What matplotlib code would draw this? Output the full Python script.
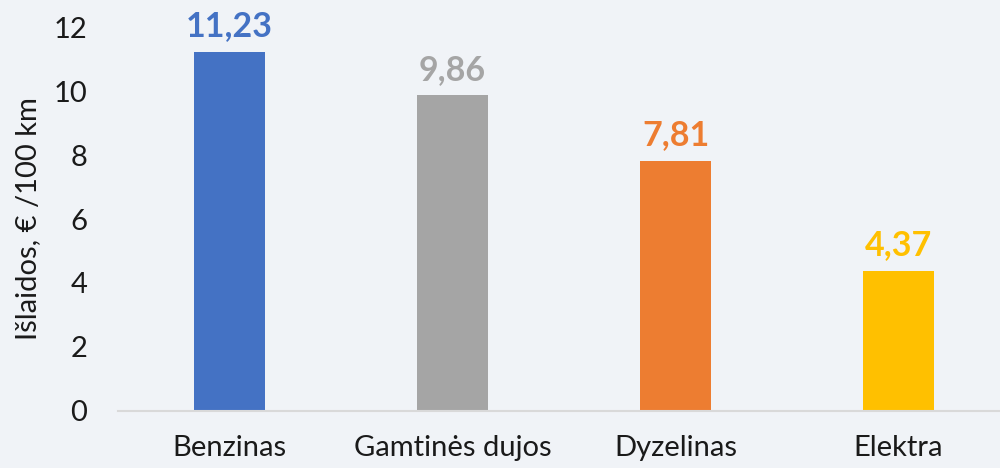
import matplotlib
matplotlib.use("Agg")
import matplotlib.pyplot as plt

categories = ["Benzinas", "Gamtinės dujos", "Dyzelinas", "Elektra"]
values = [11.23, 9.86, 7.81, 4.37]
labels = ["11,23", "9,86", "7,81", "4,37"]
colors = ["#4472C4", "#A5A5A5", "#ED7D31", "#FFC000"]
yticks = [0, 2, 4, 6, 8, 10, 12]

plt.rcParams['font.family'] = ['Lato', 'DejaVu Sans']
bg = "#F0F3F7"
fig = plt.figure(figsize=(10, 4.68), dpi=100, facecolor=bg)
ax = fig.add_axes([0.118, 0.1218, 0.892, 0.8205], facecolor=bg)

x = list(range(len(categories)))
ax.bar(x, values, width=0.32, color=colors, zorder=2)
for xi, v, lab, c in zip(x, values, labels, colors):
    ax.annotate(lab, (xi, v), xytext=(0, 7), textcoords="offset points",
                ha="center", va="bottom", fontsize=24.5, fontweight="bold", color=c)

ax.set_xlim(-0.5, len(categories) - 0.5)
ax.set_ylim(0, 12)
ax.set_yticks(yticks)
ax.set_yticklabels([str(t) for t in yticks], fontsize=21, color="#1a1a1a")
ax.set_xticks(x)
ax.set_xticklabels(categories, fontsize=21, color="#1a1a1a")
ax.tick_params(axis="both", length=0)
ax.tick_params(axis="x", pad=17)
ax.tick_params(axis="y", pad=22)
for s in ["top", "right", "left"]:
    ax.spines[s].set_visible(False)
ax.spines["bottom"].set_color("#D9D9D9")
ax.spines["bottom"].set_linewidth(1.5)
ax.set_ylabel("Išlaidos, € /100 km", fontsize=21, color="#1a1a1a", labelpad=9)

fig.savefig("out.png", dpi=100, facecolor=bg)
